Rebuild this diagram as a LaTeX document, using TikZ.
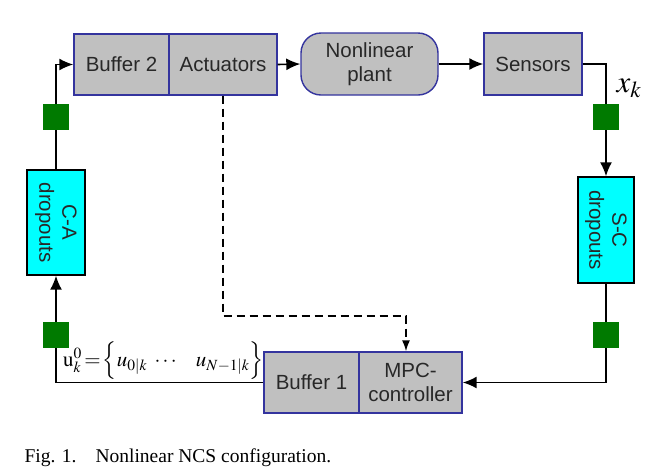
\documentclass[tikz,border=0pt]{standalone}
\usepackage{mathptmx}
\usepackage{fontspec}
\setmainfont{Liberation Serif}
\setsansfont{Liberation Sans}
\usetikzlibrary{arrows.meta}

\definecolor{grigio}{RGB}{192,192,192}
\definecolor{bordo}{RGB}{52,52,158}
\definecolor{ciano}{RGB}{0,255,255}
\definecolor{verde}{RGB}{0,122,0}
\definecolor{testo}{RGB}{40,40,40}

\begin{document}
\begin{tikzpicture}[x=1pt,y=-1pt,
    blocco/.style={draw=bordo,line width=1.4pt,fill=grigio,inner sep=0pt,text=testo,
        font=\sffamily\fontsize{20.5}{24}\selectfont,align=center,minimum height=61pt},
    perdite/.style={draw=black,line width=1.4pt,fill=ciano,inner sep=0pt},
    scritta/.style={rotate=-90,text=testo,align=center,
        font=\sffamily\fontsize{20.5}{23}\selectfont},
    pacchetto/.style={fill=verde,minimum size=26pt,inner sep=0pt},
    linea/.style={line width=1.6pt},
    freccia/.style={line width=1.6pt,-{Latex[length=14pt,width=12pt]}},
    tratteggio/.style={line width=1.6pt,dash pattern=on 8pt off 5pt,-{Latex[length=11pt,width=8pt]}}]
    \useasboundingbox[fill=white] (0,0) rectangle (657,475);

    % blocchi in alto
    \node[blocco,minimum width=95pt] (buf2) at (121.5,64.5) {Buffer 2};
    \node[blocco,minimum width=108pt] (act) at (223,64.5) {Actuators};
    \node[blocco,minimum width=137pt,minimum height=62pt,rounded corners=20pt] (plant) at (369.5,64) {Nonlinear\\plant};
    \node[blocco,minimum width=98pt,minimum height=62pt] (sens) at (533,64) {Sensors};

    % blocchi in basso
    \node[blocco,minimum width=95pt] (buf1) at (311.5,382.5) {Buffer 1};
    \node[blocco,minimum width=103pt] (mpc) at (410.5,382.5) {MPC-\\controller};

    % perdite di pacchetti
    \node[perdite,minimum width=58pt,minimum height=105pt] (cadrop) at (56,222.5) {};
    \node[scritta] (catesto) at (cadrop) {C-A\\dropouts};
    \node[perdite,minimum width=56pt,minimum height=106pt] (scdrop) at (606,230) {};
    \node[scritta] (sctesto) at (scdrop) {S-C\\dropouts};

    % pacchetti
    \node[pacchetto] (g1) at (56,117) {};
    \node[pacchetto] (g2) at (606,117) {};
    \node[pacchetto] (g3) at (56,335) {};
    \node[pacchetto] (g4) at (606,335) {};

    % anello
    \draw[linea] (cadrop.north) -- (g1.south);
    \draw[freccia] (g1.north) |- (buf2.west);
    \draw[freccia] (act.east) -- (plant.west);
    \draw[freccia] (plant.east) -- (sens.west);
    \draw[linea] (sens.east) -| (g2.north);
    \draw[freccia] (g2.south) -- (scdrop.north);
    \draw[linea] (scdrop.south) -- (g4.north);
    \draw[freccia] (g4.south) |- (mpc.east);
    \draw[linea] (buf1.west) -| (g3.south);
    \draw[freccia] (g3.north) -- (cadrop.south);

    % informazione dagli attuatori
    \coordinate (d1) at (406,316);
    \draw[tratteggio] (act.south) |- (d1) -- (d1 |- mpc.north);

    % etichette
    \node (xk) at (629,88) {\fontsize{31}{31}\selectfont $x_k$};
    \node[anchor=base west,inner sep=1pt] (uk) at (62,366) {\fontsize{21}{21}\selectfont
        $\mathrm{u}_k^0\!=\!\Big\{u_{0|k}\hspace{5pt}\cdots\hspace{17pt}u_{N-1|k}\Big\}$};
    \node[anchor=base west] (cap) at (21,462) {\fontsize{19.5}{19.5}\selectfont
        Fig. 1.\hspace{19pt}Nonlinear NCS configuration.};
\end{tikzpicture}
\end{document}
